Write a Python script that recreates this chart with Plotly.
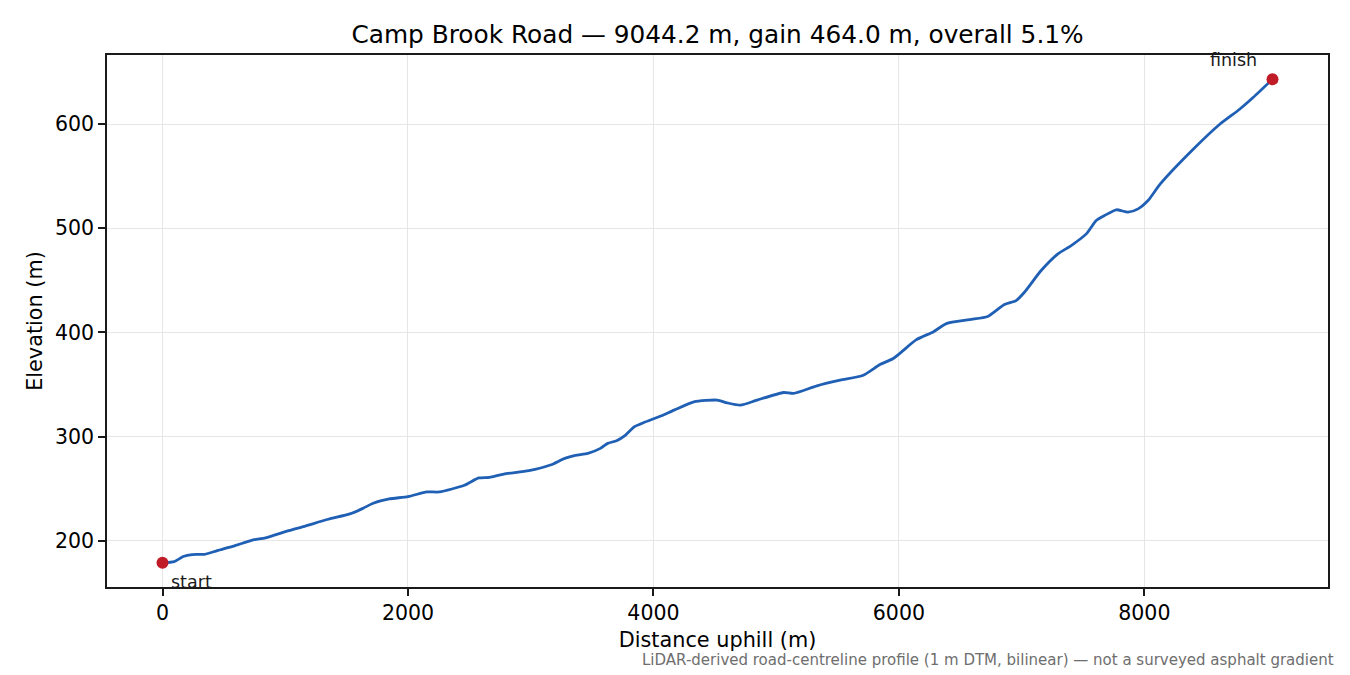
import plotly.graph_objects as go

distance_m = [0, 96, 169, 242, 344, 446, 592, 738, 840, 1030, 1147, 1351, 1526, 1628, 1716,
              1847, 2000, 2154, 2256, 2460, 2577, 2664, 2781, 2985, 3160, 3277, 3364, 3466,
              3568, 3627, 3700, 3773, 3846, 3918, 4059, 4168, 4330, 4520, 4600, 4709, 4844,
              5061, 5142, 5332, 5521, 5710, 5846, 5954, 6143, 6279, 6387, 6576, 6724, 6860,
              6955, 7023, 7159, 7296, 7404, 7527, 7608, 7676, 7771, 7867, 7949, 8030, 8130,
              8400, 8617, 8779, 8888, 9044.2]
elevation_m = [179.0, 180.2, 185.0, 186.9, 187.2, 190.7, 195.5, 201.0, 202.9, 209.9, 213.7,
               220.8, 225.9, 231.0, 236.1, 240.3, 242.5, 247.0, 247.0, 253.4, 260.4, 261.0,
               264.2, 267.4, 272.8, 279.2, 282.1, 284.0, 288.8, 293.6, 296.2, 301.6, 309.6,
               313.4, 319.8, 325.5, 333.5, 335.1, 332.5, 330.3, 335.1, 342.4, 341.5, 348.8,
               354.2, 359.0, 369.2, 375.0, 393.1, 400.5, 408.5, 412.3, 415.3, 426.8, 430.6,
               438.6, 459.4, 475.4, 483.4, 494.6, 507.4, 512.2, 517.7, 515.4, 518.6, 526.6,
               542.5, 576.0, 600.0, 614.4, 625.6, 643.0]

x_ticks = [0, 2000, 4000, 6000, 8000]
y_ticks = [200, 300, 400, 500, 600]

title = "Camp Brook Road — 9044.2 m, gain 464.0 m, overall 5.1%"
note = "LiDAR-derived road-centreline profile (1 m DTM, bilinear) — not a surveyed asphalt gradient"

FONT = "DejaVu Sans"
LINE = "#1f5fb4"
RED = "#c01c28"
AX = "#1a1a1a"

fig = go.Figure()
fig.add_trace(go.Scatter(x=distance_m, y=elevation_m, mode="lines",
                         line=dict(color=LINE, width=2.8, shape="spline", smoothing=0.6),
                         hoverinfo="skip", showlegend=False))
fig.add_trace(go.Scatter(x=[distance_m[0], distance_m[-1]], y=[elevation_m[0], elevation_m[-1]],
                         mode="markers", marker=dict(color=RED, size=12),
                         hoverinfo="skip", showlegend=False))

span_x = distance_m[-1] - distance_m[0]
span_y = max(elevation_m) - min(elevation_m)

axis_common = dict(ticks="outside", ticklen=7, tickwidth=1.6, tickcolor=AX,
                   showline=True, linecolor=AX, linewidth=1.7, mirror=True,
                   showgrid=True, gridcolor="#e6e6e6", gridwidth=1.3, zeroline=False,
                   tickfont=dict(size=20.5, color="black"))

fig.update_layout(
    width=1350, height=675,
    margin=dict(l=99, r=30, t=47, b=96),
    paper_bgcolor="white", plot_bgcolor="white",
    font=dict(family=FONT, color="black", size=20),
    title=dict(text=title, x=0.5, xref="paper", xanchor="center",
               y=1 - 26 / 675, yanchor="middle", font=dict(size=24.8, color="black")),
    xaxis=dict(range=[-0.05 * span_x, distance_m[-1] + 0.05 * span_x],
               tickvals=x_ticks, ticktext=[str(v) for v in x_ticks],
               title=dict(text="Distance uphill (m)", font=dict(size=20.8), standoff=8),
               **axis_common),
    yaxis=dict(range=[min(elevation_m) - 0.05 * span_y, max(elevation_m) + 0.05 * span_y],
               tickvals=y_ticks, ticktext=[str(v) for v in y_ticks],
               title=dict(text="Elevation (m)", font=dict(size=20.8), standoff=7),
               **axis_common),
    annotations=[
        dict(x=distance_m[0], y=elevation_m[0], xref="x", yref="y", text="start",
             showarrow=False, xanchor="left", yanchor="middle", xshift=6, yshift=-19,
             font=dict(size=17.5, color="#1a1a1a")),
        dict(x=distance_m[-1], y=elevation_m[-1], xref="x", yref="y", text="finish",
             showarrow=False, xanchor="center", yanchor="middle", xshift=-39, yshift=19,
             font=dict(size=17.5, color="#1a1a1a")),
        dict(x=(1336 - 107) / 1221, y=(587 - 660) / 532, xref="paper", yref="paper", text=note,
             showarrow=False, xanchor="right", yanchor="middle",
             font=dict(size=15, color="#6e6e6e")),
    ],
)

fig.write_html("out.html")
